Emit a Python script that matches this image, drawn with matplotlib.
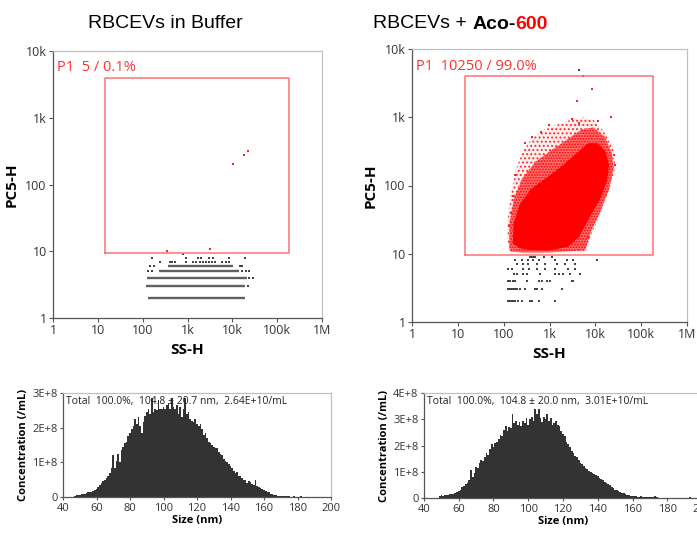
import numpy as np
import matplotlib
matplotlib.use('Agg')
import matplotlib.pyplot as plt
from matplotlib.ticker import FixedLocator, FixedFormatter, NullLocator

plt.rcParams['font.family'] = ['Open Sans', 'DejaVu Sans']
plt.rcParams['hatch.linewidth'] = 0.9

# ---- scatter data (log10 values) ----
titles_left = "RBCEVs in Buffer"
gate_left = (14.5, 9.4, 186000, 4000)   # x0, y0, x1, y1
gate_right = (14.5, 9.6, 178000, 4000)
gate_text_left = "P1  5 / 0.1%"
gate_text_right = "P1  10250 / 99.0%"

# left: black events on integer PC5 rows, drawn as solid runs + single events
left_run_y = [2, 3, 4, 5, 6]
left_run_x0 = [2.13, 2.08, 2.10, 2.37, 2.57]
left_run_x1 = [4.29, 4.29, 4.32, 4.15, 4.02]
left_dots = {
    3: [4.36],
    4: [4.38, 4.46],
    5: [2.13, 2.20, 4.22, 4.30, 4.37],
    6: [2.17, 2.25, 4.16, 4.22],
    7: [2.39, 2.61, 2.66, 2.72, 2.96, 3.13, 3.20, 3.27, 3.34, 3.41, 3.48, 3.55, 3.62, 3.76, 3.86, 3.93],
    8: [2.20, 2.97, 3.23, 3.30, 3.48, 3.56, 3.93, 4.29],
    9: [2.89],
}
left_red_x = [2.54, 3.50, 4.02, 4.27, 4.36]
left_red_y = [1.00, 1.04, 2.31, 2.44, 2.50]

# right: black events below the gate
right_dots = {
    9: [2.58, 2.62, 2.66, 2.69, 2.87, 3.05],
    8: [2.25, 2.40, 2.54, 2.65, 2.76, 3.12, 3.38, 3.52, 4.03],
    7: [2.30, 2.43, 2.54, 2.72, 2.91, 3.16, 3.34, 3.56],
    6: [2.10, 2.18, 2.43, 2.56, 2.73, 2.90, 3.12, 3.41, 3.56],
    5: [2.22, 2.29, 2.43, 2.50, 2.80, 3.12, 3.20, 3.30, 3.45, 3.67],
    4: [2.10, 2.14, 2.21, 2.25, 2.50, 2.76, 2.83, 2.94, 3.01, 3.49, 3.52],
    3: [2.10, 2.14, 2.18, 2.21, 2.25, 2.29, 2.36, 2.47, 2.69, 2.72, 2.83, 3.27],
    2: [2.10, 2.14, 2.18, 2.21, 2.25, 2.32, 2.40, 2.58, 2.62, 2.76, 3.12],
}
right_black_x = [3.65]
right_black_y = [3.69]

# right: red cloud outlines (log SS, log PC5), sparse halo / dense band / solid core
halo_x = [2.08, 2.10, 2.16, 2.25, 2.40, 2.62, 2.90, 3.20, 3.45, 3.73, 3.95, 4.20, 4.39, 4.44, 4.32, 4.12, 3.92, 3.78, 3.00, 2.40, 2.12]
halo_y = [1.25, 1.60, 1.88, 2.20, 2.48, 2.70, 2.82, 2.90, 2.96, 3.00, 2.97, 2.78, 2.55, 2.28, 1.98, 1.60, 1.30, 1.02, 1.01, 1.01, 1.03]
mid_x = [2.12, 2.13, 2.22, 2.40, 2.70, 3.05, 3.40, 3.70, 3.95, 4.20, 4.36, 4.40, 4.30, 4.10, 3.90, 3.78, 3.00, 2.40, 2.15]
mid_y = [1.10, 1.45, 1.80, 2.10, 2.35, 2.52, 2.68, 2.82, 2.85, 2.72, 2.48, 2.25, 1.95, 1.60, 1.32, 1.05, 1.02, 1.02, 1.03]
core_x = [2.20, 2.22, 2.35, 2.60, 2.95, 3.30, 3.60, 3.85, 4.05, 4.22, 4.30, 4.25, 4.10, 3.85, 3.65, 3.40, 3.00, 2.60, 2.35]
core_y = [1.15, 1.45, 1.72, 1.95, 2.12, 2.30, 2.48, 2.62, 2.62, 2.50, 2.30, 2.05, 1.80, 1.50, 1.25, 1.10, 1.05, 1.05, 1.08]
red_out_x = [3.73, 3.93, 3.60, 4.35, 2.99, 2.62, 2.47, 2.25, 3.84, 2.82, 3.50, 3.65, 4.05, 4.40, 4.42, 2.15, 2.12, 2.20]
red_out_y = [3.60, 3.41, 3.24, 3.00, 2.88, 2.71, 2.63, 2.16, 1.25, 2.78, 2.98, 2.92, 2.95, 2.45, 2.30, 1.60, 1.40, 1.85]

# ---- size distributions (x1E8 /mL, 1 nm bins) ----
left_start = 45
left_conc = [0.01, 0.01, 0.02, 0.05, 0.06, 0.07, 0.08, 0.10, 0.09, 0.12, 0.13, 0.15, 0.14, 0.18, 0.20,
             0.22, 0.30, 0.36, 0.40, 0.45, 0.50, 0.55, 0.62, 0.70, 0.85, 1.20, 0.85, 1.05, 1.25, 1.00,
             1.35, 1.45, 1.55, 1.60, 1.75, 1.85, 1.95, 2.05, 2.25, 2.10, 2.30, 2.05, 1.85, 2.15, 2.35,
             2.45, 2.55, 2.40, 2.85, 2.45, 2.55, 2.50, 2.80, 2.55, 2.55, 2.60, 2.55, 2.65, 2.70, 2.55,
             2.85, 2.60, 2.55, 2.65, 2.40, 2.60, 2.30, 2.55, 2.85, 2.40, 2.45, 2.25, 2.20, 2.15, 2.25,
             2.10, 2.05, 2.10, 1.95, 1.80, 1.85, 1.70, 1.60, 1.55, 1.50, 1.45, 1.40, 1.42, 1.30, 1.25,
             1.20, 1.10, 1.05, 1.00, 0.95, 0.90, 0.85, 0.75, 0.70, 0.72, 0.62, 0.60, 0.55, 0.50, 0.48,
             0.40, 0.45, 0.42, 0.38, 0.35, 0.50, 0.32, 0.30, 0.25, 0.22, 0.20, 0.18, 0.15, 0.13, 0.10,
             0.08, 0.06, 0.05, 0.04, 0.03, 0.03, 0.02, 0.03, 0.02, 0.02, 0.02, 0.01, 0.01, 0.02, 0.01,
             0.01, 0.01, 0.02, 0.01, 0.01, 0.0]
right_start = 45
right_conc = [0.0, 0.0, 0.0, 0.0, 0.08, 0.10, 0.09, 0.12, 0.11, 0.13, 0.14, 0.16, 0.15, 0.20, 0.22,
              0.28, 0.32, 0.42, 0.45, 0.55, 0.58, 0.70, 1.05, 0.80, 0.95, 1.20, 1.15, 1.35, 1.45, 1.40,
              1.55, 1.70, 1.65, 1.85, 2.05, 1.95, 2.10, 2.15, 2.25, 2.40, 2.35, 2.60, 2.75, 2.55, 2.70,
              2.65, 3.20, 2.85, 2.95, 2.80, 2.90, 2.75, 2.95, 2.85, 3.05, 2.80, 3.00, 3.10, 2.95, 3.40,
              3.20, 3.40, 3.05, 2.90, 3.10, 3.00, 3.20, 2.95, 3.05, 2.80, 2.85, 2.95, 2.80, 2.75, 2.55,
              2.45, 2.35, 2.15, 2.05, 1.95, 1.80, 1.70, 1.60, 1.55, 1.45, 1.35, 1.28, 1.22, 1.15, 1.10,
              1.02, 0.98, 0.95, 0.90, 0.88, 0.85, 0.78, 0.72, 0.68, 0.62, 0.58, 0.55, 0.48, 0.42, 0.38,
              0.32, 0.29, 0.25, 0.22, 0.20, 0.18, 0.15, 0.12, 0.10, 0.09, 0.08, 0.07, 0.06, 0.05, 0.05,
              0.06, 0.04, 0.04, 0.03, 0.05, 0.03, 0.02, 0.03, 0.06, 0.02, 0.0, 0.01, 0.0, 0.0, 0.0,
              0.01, 0.0, 0.0, 0.0, 0.0, 0.0, 0.0, 0.0, 0.0, 0.0, 0.0, 0.0, 0.0, 0.04]
left_info = "Total  100.0%,  104.8 \u00b1 20.7 nm,  2.64E+10/mL"
right_info = "Total  100.0%,  104.8 \u00b1 20.0 nm,  3.01E+10/mL"

log_ticks_x = [1, 10, 100, 1e3, 1e4, 1e5, 1e6]
log_labels_x = ['1', '10', '100', '1k', '10k', '100k', '1M']
log_ticks_y = [1, 10, 100, 1e3, 1e4]
log_labels_y = ['1', '10', '100', '1k', '10k']

W, H = 697, 533
fig = plt.figure(figsize=(W / 100, H / 100), dpi=100)


def px_axes(l, t, r, b):
    return fig.add_axes([l / W, 1 - b / H, (r - l) / W, (b - t) / H])


def style_frame(ax):
    for s in ['top', 'right']:
        ax.spines[s].set_color('#c0c0c0')
    for s in ['left', 'bottom']:
        ax.spines[s].set_color('#555555')
    for s in ax.spines.values():
        s.set_linewidth(0.9)
    ax.tick_params(length=3, width=0.8, color='#555555', labelcolor='#333333', pad=1.5)


def scatter_axes(l, t, r, b, gate, gate_text):
    ax = px_axes(l, t, r, b)
    ax.set_xscale('log')
    ax.set_yscale('log')
    ax.set_xlim(1, 1e6)
    ax.set_ylim(1, 1e4)
    ax.xaxis.set_major_locator(FixedLocator(log_ticks_x))
    ax.xaxis.set_major_formatter(FixedFormatter(log_labels_x))
    ax.yaxis.set_major_locator(FixedLocator(log_ticks_y))
    ax.yaxis.set_major_formatter(FixedFormatter(log_labels_y))
    ax.xaxis.set_minor_locator(NullLocator())
    ax.yaxis.set_minor_locator(NullLocator())
    style_frame(ax)
    ax.tick_params(labelsize=9)
    x0, y0, x1, y1 = gate
    ax.plot([x0, x1, x1, x0, x0], [y0, y0, y1, y1, y0], color='#ff7070', lw=1.1, zorder=5)
    ax.text(0.015, 0.965, gate_text, transform=ax.transAxes, color='#ff3030',
            fontsize=10.5, ha='left', va='top')
    ax.set_xlabel('SS-H', fontsize=11, fontweight='bold', labelpad=4)
    ax.set_ylabel('PC5-H', fontsize=11, fontweight='bold', labelpad=5)
    return ax


def dots(ax, rows, color):
    for yv, xs in rows.items():
        ax.scatter(10 ** np.array(xs), np.full(len(xs), yv), s=3, marker='s',
                   color=color, linewidths=0, zorder=3)


# ---- left scatter ----
ax1 = scatter_axes(53, 51, 322, 318, gate_left, gate_text_left)
ax1.hlines(left_run_y, 10 ** np.array(left_run_x0), 10 ** np.array(left_run_x1),
           color='#606060', lw=1.7, zorder=3)
dots(ax1, left_dots, '#444444')
ax1.scatter(10 ** np.array(left_red_x), 10 ** np.array(left_red_y), s=4, marker='s',
            color='#ff2020', linewidths=0, zorder=4)

# ---- right scatter ----
ax2 = scatter_axes(412, 49, 687, 322, gate_right, gate_text_right)
ax2.fill(10 ** np.array(halo_x), 10 ** np.array(halo_y), facecolor='#fff0f0',
         edgecolor='#ff2a2a', hatch='....', lw=0, zorder=2)
ax2.fill(10 ** np.array(mid_x), 10 ** np.array(mid_y), facecolor='#ff7070',
         edgecolor='#ff0000', hatch='......', lw=0, zorder=2)
ax2.fill(10 ** np.array(core_x), 10 ** np.array(core_y), facecolor='#ff0000',
         edgecolor='none', lw=0, zorder=3)
ax2.scatter(10 ** np.array(red_out_x), 10 ** np.array(red_out_y), s=4, marker='s',
            color='#ff2020', linewidths=0, zorder=4)
dots(ax2, right_dots, '#444444')
ax2.scatter(10 ** np.array(right_black_x), 10 ** np.array(right_black_y), s=3, marker='s',
            color='#444444', linewidths=0, zorder=4)

# ---- titles ----
fig.text(165 / W, 1 - 24 / H, titles_left, fontsize=14, family='Liberation Sans',
         ha='center', va='center')
t1 = fig.text(373 / W, 1 - 24 / H, 'RBCEVs + ', fontsize=14, family='Liberation Sans',
              ha='left', va='center')
t2 = fig.text(0, 0, 'Aco-', fontsize=14, family='Liberation Sans', fontweight='bold')
t3 = fig.text(0, 0, '600', fontsize=14, family='Liberation Sans', fontweight='bold',
              color='#ff0000')
fig.canvas.draw()
r = fig.canvas.get_renderer()
bb = t1.get_window_extent(r)
t2.set_position((bb.x1 / fig.bbox.width, bb.y0 / fig.bbox.height))
t2.set_va('bottom')
bb2 = t2.get_window_extent(r)
t3.set_position((bb2.x1 / fig.bbox.width, bb.y0 / fig.bbox.height))
t3.set_va('bottom')


# ---- histograms ----
def hist_axes(l, t, r, b, start, conc, ymax, info):
    ax = px_axes(l, t, r, b)
    sizes = np.arange(start, start + len(conc))
    ax.bar(sizes, np.array(conc) * 1e8, width=1.0, color='#333333', linewidth=0)
    ax.set_xlim(40, 200)
    ax.set_ylim(0, ymax)
    ax.set_xticks(np.arange(40, 201, 20))
    yt = np.arange(0, ymax + 1, 1e8)
    ax.set_yticks(yt)
    ax.set_yticklabels(['0'] + ['%dE+8' % (v / 1e8) for v in yt[1:]])
    style_frame(ax)
    ax.tick_params(labelsize=8, length=2.5)
    ax.text(0.01, 0.97, info, transform=ax.transAxes, fontsize=7.5, ha='left', va='top',
            color='#222222')
    ax.set_xlabel('Size (nm)', fontsize=8, fontweight='bold', labelpad=1)
    ax.set_ylabel('Concentration (/mL)', fontsize=8, fontweight='bold', labelpad=2)
    return ax


hist_axes(63, 393, 331, 497, left_start, left_conc, 3e8, left_info)
hist_axes(424, 393, 702, 498, right_start, right_conc, 4e8, right_info)

fig.savefig('out.png', dpi=100)
